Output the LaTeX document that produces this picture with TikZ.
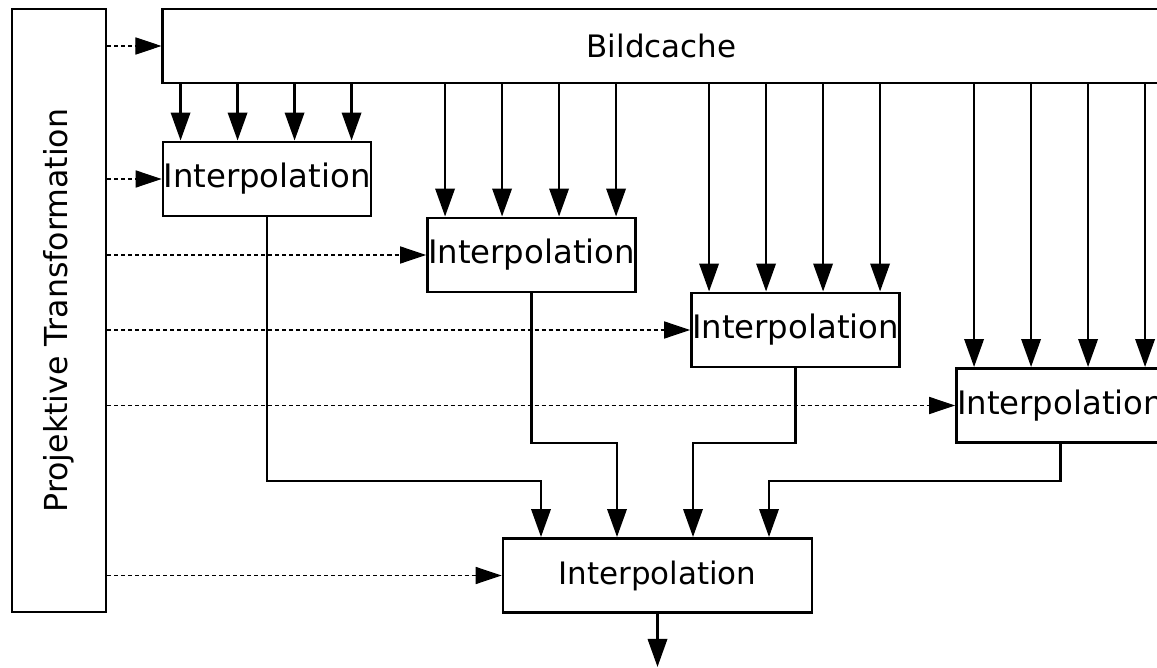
\documentclass[tikz,border=0pt]{standalone}
\usepackage{fontspec}
\setmainfont{DejaVu Sans}
\usetikzlibrary{arrows.meta,calc}
\def\BoxWidth{5.2cm}
\def\BoxHeight{1.85cm}

\tikzset{
	block/.style={draw,line width=2pt,fill=white,minimum width=\BoxWidth,minimum height=\BoxHeight,inner sep=0pt,font=\fontsize{23}{27}\selectfont},
	flow/.style={line width=2pt,-{Triangle[length=0.7cm,width=0.48cm]}},
	ctrl/.style={line width=0.75pt,dash pattern=on 0.1cm off 0.075cm,-{Triangle[length=0.65cm,width=0.43cm]}},
}

\begin{document}
\begin{tikzpicture}[x=0.025cm,y=-0.025cm]
	\clip (0,0) rectangle (1157,668);
	\useasboundingbox (0,0) rectangle (1157,668);
	% blocks
	\node[block,rotate=90,minimum width=15.075cm,minimum height=2.35cm,font=\fontsize{22.5}{26}\selectfont] (trans) at (59,310.5) {Projektive Transformation};
	\node[block,minimum width=24.925cm,font=\fontsize{22}{26}\selectfont] (bild) at (661.5,46) {Bildcache};
	\node[block] (ip1) at (267,179) {Interpolation};
	\node[block] (ip2) at (531.5,255) {Interpolation};
	\node[block] (ip3) at (795.5,330) {Interpolation};
	\node[block] (ip4) at (1060.5,405.5) {Interpolation};
	\node[block,minimum width=7.725cm,font=\fontsize{22}{26}\selectfont] (ipsum) at (657.5,575.5) {Interpolation};
	% 
	\coordinate (j1) at (541,481);
	\coordinate (j2) at (617,443);
	\coordinate (j3) at (693,443);
	\coordinate (j4) at (769,481);
	\coordinate (out) at (657.5,667);
	% image data from the cache
	\foreach \i in {1,...,4}
		\foreach \k in {0,...,3}{
			\coordinate (tap) at ($(ip\i.north west)+({19+57*\k},0)$);
			\draw[flow] (tap |- bild.south) -- (tap);
		}
	% partial results
	\draw[flow] (ip1.south) |- (j1) -- (j1 |- ipsum.north);
	\draw[flow] (ip2.south) |- (j2) -- (j2 |- ipsum.north);
	\draw[flow] (ip3.south) |- (j3) -- (j3 |- ipsum.north);
	\draw[flow] (ip4.south) |- (j4) -- (j4 |- ipsum.north);
	\draw[flow] (ipsum.south) -- (out);
	% transformation parameters
	\foreach \n in {bild,ip1,ip2,ip3,ip4,ipsum}
		\draw[ctrl] (trans.south |- \n.west) -- (\n.west);
\end{tikzpicture}
\end{document}
